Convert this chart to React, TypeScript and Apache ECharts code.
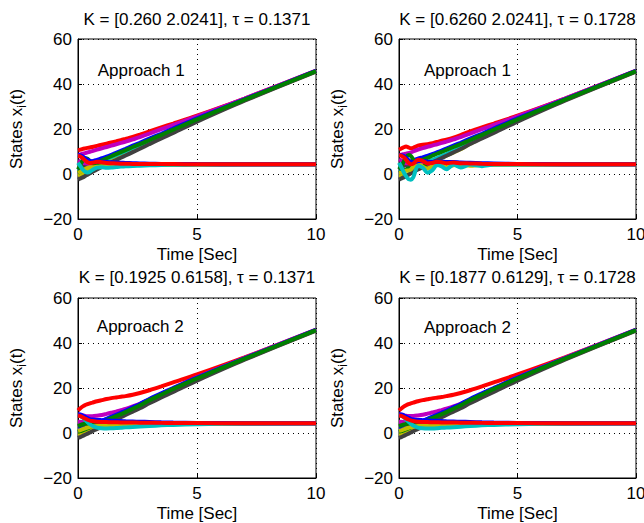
import React, { useEffect, useRef } from 'react';
import * as echarts from 'echarts';

// Shared time samples (s)
const T = [0, 0.1, 0.2, 0.3, 0.4, 0.5, 0.6, 0.8, 1.0, 1.2, 1.4, 1.6, 1.8, 2.0, 2.3, 2.6, 3.0, 3.5, 4, 5, 7, 10];

// ---- Top-left: Approach 1, tau = 0.1371 ----
const A1L_POS_RED = [10.5, 10.8, 11.2, 11.4, 11.6, 11.8, 12.0, 12.5, 13.0, 13.5, 14.0, 14.5, 15.0, 15.6, 16.5, 17.5, 18.9, 20.7, 22.4, 25.9, 33.5, 45.8];
const A1L_POS_MAG = [8.5, 8.7, 9.0, 9.3, 9.6, 9.9, 10.2, 10.8, 11.4, 12.0, 12.6, 13.2, 13.8, 14.4, 15.4, 16.4, 17.9, 19.9, 21.8, 25.6, 33.5, 46.0];
const A1L_POS_BLUE = [2.0, 2.9, 3.7, 4.3, 4.8, 5.2, 5.6, 6.3, 7.0, 7.7, 8.5, 9.4, 10.3, 11.2, 12.6, 13.9, 15.7, 17.9, 20.2, 24.7, 33.2, 45.8];
const A1L_POS_GREEN = [0.5, 1.1, 1.8, 2.5, 3.2, 3.8, 4.3, 5.2, 6.1, 7.0, 7.9, 8.8, 9.7, 10.6, 12.0, 13.3, 15.1, 17.4, 19.7, 24.3, 33.05, 45.7];
const A1L_POS_GRAY = [-2.5, -2.0, -1.5, -0.9, -0.3, 0.3, 0.9, 2.0, 3.1, 4.2, 5.2, 6.2, 7.2, 8.2, 9.7, 11.2, 13.3, 15.8, 18.3, 23.3, 32.6, 45.5];
const A1L_POS_YEL = [-1.0, -0.5, 0.1, 0.7, 1.3, 1.9, 2.5, 3.5, 4.5, 5.5, 6.4, 7.3, 8.2, 9.1, 10.5, 11.9, 13.8, 16.3, 18.8, 23.7, 32.8, 45.6];
const A1L_POS_CYAN = [1.0, 1.4, 1.9, 2.4, 2.9, 3.4, 3.9, 4.8, 5.7, 6.6, 7.5, 8.4, 9.3, 10.2, 11.6, 13.0, 14.9, 17.2, 19.6, 24.2, 33.0, 45.7];
const A1L_VEL_BLUE = [8.5, 8.3, 7.8, 7.0, 6.3, 5.8, 5.6, 5.6, 5.5, 5.3, 5.2, 5.1, 5.0, 4.9, 4.8, 4.7, 4.6, 4.5, 4.45, 4.4, 4.35, 4.35];
const A1L_VEL_RED = [8.0, 7.8, 7.0, 6.0, 5.2, 4.9, 5.0, 5.5, 5.2, 4.9, 4.8, 4.7, 4.6, 4.6, 4.5, 4.5, 4.45, 4.4, 4.4, 4.35, 4.3, 4.3];
const A1L_VEL_GREEN = [2.0, 4.0, 6.0, 7.0, 6.8, 5.8, 4.8, 4.2, 4.3, 4.5, 4.5, 4.4, 4.4, 4.4, 4.35, 4.3, 4.3, 4.3, 4.3, 4.3, 4.3, 4.3];
const A1L_VEL_CYAN = [5.0, 3.5, 2.0, 1.0, 0.7, 1.0, 1.8, 2.8, 3.0, 2.8, 2.9, 3.1, 3.3, 3.4, 3.6, 3.7, 3.85, 4.0, 4.1, 4.2, 4.3, 4.3];
const A1L_VEL_YEL = [0.5, 1.0, 1.6, 2.2, 2.7, 3.0, 3.0, 3.2, 3.4, 3.5, 3.5, 3.6, 3.7, 3.8, 3.9, 4.0, 4.05, 4.1, 4.15, 4.2, 4.3, 4.3];
const A1L_VEL_MAG = [6.0, 5.5, 5.0, 4.8, 4.6, 4.5, 4.5, 4.5, 4.5, 4.5, 4.5, 4.5, 4.4, 4.4, 4.4, 4.4, 4.4, 4.35, 4.35, 4.3, 4.3, 4.3];
const A1L_VEL_GRAY = [3.0, 3.2, 3.5, 3.8, 4.0, 4.0, 4.1, 4.1, 4.1, 4.1, 4.15, 4.2, 4.2, 4.2, 4.2, 4.25, 4.25, 4.25, 4.3, 4.3, 4.3, 4.3];

// ---- Top-right: Approach 1, tau = 0.1728 ----
const A1R_POS_RED = [10.8, 11.3, 11.9, 12.2, 11.8, 11.4, 11.6, 12.6, 13.0, 13.2, 13.7, 14.2, 14.8, 15.3, 16.2, 17.3, 18.9, 20.7, 22.4, 25.9, 33.5, 45.8];
const A1R_POS_MAG = [8.5, 8.6, 8.8, 9.0, 9.3, 9.6, 10.0, 10.8, 11.5, 12.1, 12.6, 13.2, 13.8, 14.4, 15.4, 16.4, 17.9, 19.9, 21.8, 25.6, 33.5, 46.0];
const A1R_POS_BLUE = [2.0, 2.9, 3.7, 4.4, 5.0, 5.5, 6.0, 6.8, 7.4, 8.0, 8.8, 9.6, 10.4, 11.3, 12.6, 13.9, 15.7, 17.9, 20.2, 24.7, 33.2, 45.8];
const A1R_POS_GREEN = [0.5, 0.8, 1.3, 2.0, 2.8, 3.6, 4.4, 5.6, 6.4, 7.2, 8.1, 9.0, 9.8, 10.7, 12.0, 13.3, 15.1, 17.4, 19.7, 24.3, 33.05, 45.7];
const A1R_POS_GRAY = [-2.5, -2.0, -1.5, -0.9, -0.3, 0.3, 0.9, 2.0, 3.0, 4.1, 5.1, 6.1, 7.1, 8.1, 9.6, 11.1, 13.3, 15.8, 18.3, 23.3, 32.6, 45.5];
const A1R_POS_YEL = [-1.0, -0.9, -0.7, -0.4, 0.0, 0.5, 1.1, 2.3, 3.3, 4.3, 5.3, 6.3, 7.2, 8.1, 9.6, 11.0, 13.4, 16.1, 18.7, 23.7, 32.8, 45.6];
const A1R_POS_CYAN = [1.0, 1.3, 1.5, 1.7, 1.9, 2.2, 2.6, 3.5, 4.4, 5.3, 6.2, 7.1, 8.0, 8.9, 10.3, 11.7, 14.2, 16.9, 19.4, 24.2, 33.0, 45.7];
const A1R_VEL_RED = [8.3, 8.1, 7.4, 6.3, 5.0, 4.3, 4.6, 6.3, 5.8, 4.7, 4.9, 5.5, 5.2, 4.8, 5.1, 4.8, 4.7, 4.55, 4.45, 4.4, 4.3, 4.3];
const A1R_VEL_BLUE = [8.5, 8.4, 8.0, 7.2, 6.2, 5.4, 5.2, 5.6, 5.9, 5.5, 5.3, 5.5, 5.5, 5.3, 5.3, 5.1, 5.0, 4.8, 4.7, 4.5, 4.35, 4.35];
const A1R_VEL_GREEN = [2.0, 3.5, 5.5, 7.5, 8.4, 8.0, 6.5, 3.8, 3.5, 4.8, 5.0, 4.3, 4.2, 4.6, 4.5, 4.3, 4.4, 4.3, 4.3, 4.3, 4.3, 4.3];
const A1R_VEL_CYAN = [5.0, 3.0, 0.8, -1.0, -2.3, -2.5, -1.5, 3.6, 2.8, 0.6, 1.6, 4.0, 3.4, 2.1, 4.2, 2.9, 4.2, 3.5, 4.2, 4.2, 4.3, 4.3];
const A1R_VEL_YEL = [0.5, 0.6, 1.0, 1.5, 1.6, 2.0, 3.2, 4.8, 3.2, 2.4, 3.4, 4.4, 3.8, 3.0, 3.9, 4.2, 3.7, 4.1, 4.2, 4.25, 4.3, 4.3];
const A1R_VEL_MAG = [6.5, 6.0, 5.2, 4.8, 4.8, 5.0, 5.2, 4.8, 4.4, 4.6, 4.8, 4.6, 4.4, 4.5, 4.5, 4.4, 4.4, 4.35, 4.35, 4.3, 4.3, 4.3];
const A1R_VEL_GRAY = [3.0, 3.3, 3.7, 4.0, 4.2, 4.2, 4.1, 3.9, 4.0, 4.2, 4.2, 4.1, 4.1, 4.2, 4.2, 4.2, 4.25, 4.25, 4.3, 4.3, 4.3, 4.3];

// ---- Bottom-left: Approach 2, tau = 0.1371 ----
const A2L_POS_RED = [10.0, 11.0, 11.8, 12.4, 12.8, 13.2, 13.5, 14.1, 14.6, 15.1, 15.5, 15.8, 16.1, 16.4, 17.0, 17.8, 19.0, 20.7, 22.5, 26.0, 33.6, 45.8];
const A2L_POS_MAG = [8.3, 8.0, 7.8, 7.6, 7.5, 7.5, 7.5, 7.7, 8.0, 8.5, 9.0, 9.5, 10.1, 10.7, 11.8, 13.0, 14.9, 17.3, 19.8, 24.8, 33.4, 46.0];
const A2L_POS_BLUE = [2.0, 2.1, 2.3, 2.6, 2.9, 3.3, 3.7, 4.5, 5.4, 6.3, 7.2, 8.1, 9.0, 9.9, 11.4, 12.9, 15.1, 17.6, 20.0, 24.6, 33.2, 45.8];
const A2L_POS_GREEN = [0.5, 0.8, 1.2, 1.6, 2.0, 2.5, 3.0, 3.9, 4.8, 5.7, 6.6, 7.5, 8.4, 9.3, 10.8, 12.3, 14.6, 17.1, 19.6, 24.3, 33.05, 45.7];
const A2L_POS_GRAY = [-2.2, -1.8, -1.3, -0.8, -0.3, 0.2, 0.8, 1.8, 2.9, 4.0, 5.0, 6.0, 7.0, 8.0, 9.5, 11.0, 13.2, 15.8, 18.3, 23.3, 32.6, 45.5];
const A2L_POS_YEL = [-1.0, -0.8, -0.4, 0.0, 0.5, 1.0, 1.5, 2.5, 3.5, 4.6, 5.6, 6.6, 7.6, 8.6, 10.1, 11.6, 13.8, 16.3, 18.8, 23.7, 32.8, 45.6];
const A2L_POS_CYAN = [1.0, 1.2, 1.5, 1.9, 2.3, 2.8, 3.3, 4.3, 5.3, 6.3, 7.3, 8.2, 9.1, 10.0, 11.4, 12.8, 14.9, 17.2, 19.6, 24.2, 33.0, 45.7];
const A2L_VEL_BLUE = [8.3, 8.2, 7.8, 7.2, 6.6, 6.2, 6.0, 5.8, 5.7, 5.6, 5.5, 5.4, 5.3, 5.2, 5.1, 5.0, 4.9, 4.75, 4.65, 4.5, 4.35, 4.35];
const A2L_VEL_RED = [7.8, 7.5, 7.0, 6.4, 5.9, 5.5, 5.3, 5.0, 4.9, 4.85, 4.8, 4.75, 4.7, 4.7, 4.65, 4.6, 4.55, 4.5, 4.45, 4.4, 4.3, 4.3];
const A2L_VEL_CYAN = [8.0, 7.6, 6.8, 5.8, 4.8, 3.9, 3.2, 2.4, 2.1, 2.0, 2.1, 2.2, 2.3, 2.5, 2.7, 2.9, 3.1, 3.4, 3.6, 3.9, 4.2, 4.3];
const A2L_VEL_YEL = [1.0, 1.3, 1.7, 2.1, 2.4, 2.7, 2.9, 3.1, 3.2, 3.3, 3.35, 3.4, 3.45, 3.5, 3.6, 3.65, 3.75, 3.85, 3.95, 4.1, 4.25, 4.3];
const A2L_VEL_GREEN = [3.0, 3.5, 3.9, 4.1, 4.2, 4.3, 4.35, 4.4, 4.4, 4.4, 4.4, 4.4, 4.4, 4.4, 4.4, 4.4, 4.4, 4.35, 4.35, 4.3, 4.3, 4.3];
const A2L_VEL_MAG = [5.0, 5.0, 4.9, 4.8, 4.7, 4.65, 4.6, 4.55, 4.5, 4.5, 4.5, 4.45, 4.45, 4.45, 4.4, 4.4, 4.4, 4.35, 4.35, 4.3, 4.3, 4.3];
const A2L_VEL_GRAY = [3.5, 3.6, 3.7, 3.8, 3.9, 3.95, 4.0, 4.05, 4.1, 4.1, 4.1, 4.15, 4.15, 4.2, 4.2, 4.2, 4.25, 4.25, 4.25, 4.3, 4.3, 4.3];

// ---- Bottom-right: Approach 2, tau = 0.1728 ----
const A2R_POS_RED = [10.0, 10.9, 11.7, 12.3, 12.8, 13.2, 13.5, 14.1, 14.6, 15.0, 15.4, 15.7, 16.0, 16.4, 17.0, 17.8, 19.0, 20.7, 22.5, 26.0, 33.6, 45.8];
const A2R_POS_MAG = [8.3, 8.1, 7.9, 7.7, 7.6, 7.6, 7.6, 7.8, 8.1, 8.6, 9.1, 9.6, 10.2, 10.8, 11.8, 13.0, 14.9, 17.3, 19.8, 24.8, 33.4, 46.0];
const A2R_POS_BLUE = [2.0, 2.1, 2.3, 2.6, 2.9, 3.3, 3.7, 4.5, 5.4, 6.3, 7.2, 8.1, 9.0, 9.9, 11.4, 12.9, 15.1, 17.6, 20.0, 24.6, 33.2, 45.8];
const A2R_POS_GREEN = [0.5, 0.8, 1.2, 1.6, 2.0, 2.5, 3.0, 3.9, 4.8, 5.7, 6.6, 7.5, 8.4, 9.3, 10.8, 12.3, 14.6, 17.1, 19.6, 24.3, 33.05, 45.7];
const A2R_POS_GRAY = [-2.2, -1.8, -1.3, -0.8, -0.3, 0.2, 0.8, 1.8, 2.9, 4.0, 5.0, 6.0, 7.0, 8.0, 9.5, 11.0, 13.2, 15.8, 18.3, 23.3, 32.6, 45.5];
const A2R_POS_YEL = [-1.0, -0.8, -0.5, -0.1, 0.4, 0.9, 1.4, 2.4, 3.4, 4.5, 5.5, 6.5, 7.5, 8.5, 10.0, 11.5, 13.8, 16.3, 18.8, 23.7, 32.8, 45.6];
const A2R_POS_CYAN = [1.0, 1.2, 1.5, 1.9, 2.3, 2.7, 3.2, 4.2, 5.2, 6.2, 7.2, 8.1, 9.0, 9.9, 11.3, 12.7, 14.9, 17.2, 19.6, 24.2, 33.0, 45.7];
const A2R_VEL_BLUE = [8.3, 8.2, 7.9, 7.3, 6.7, 6.3, 6.0, 5.8, 5.7, 5.6, 5.5, 5.4, 5.3, 5.2, 5.1, 5.0, 4.9, 4.75, 4.65, 4.5, 4.35, 4.35];
const A2R_VEL_RED = [7.8, 7.6, 7.1, 6.5, 6.0, 5.6, 5.3, 5.0, 4.9, 4.85, 4.8, 4.75, 4.7, 4.7, 4.65, 4.6, 4.55, 4.5, 4.45, 4.4, 4.3, 4.3];
const A2R_VEL_CYAN = [8.0, 7.7, 7.0, 6.0, 5.0, 4.1, 3.3, 2.4, 2.1, 2.0, 2.0, 2.1, 2.3, 2.4, 2.6, 2.8, 3.1, 3.4, 3.6, 3.9, 4.2, 4.3];
const A2R_VEL_YEL = [1.0, 1.2, 1.6, 2.0, 2.3, 2.6, 2.8, 3.1, 3.2, 3.3, 3.35, 3.4, 3.45, 3.5, 3.6, 3.65, 3.75, 3.85, 3.95, 4.1, 4.25, 4.3];
const A2R_VEL_GREEN = [3.0, 3.4, 3.8, 4.0, 4.2, 4.3, 4.35, 4.4, 4.4, 4.4, 4.4, 4.4, 4.4, 4.4, 4.4, 4.4, 4.4, 4.35, 4.35, 4.3, 4.3, 4.3];
const A2R_VEL_MAG = [5.0, 5.0, 4.9, 4.8, 4.7, 4.65, 4.6, 4.55, 4.5, 4.5, 4.5, 4.45, 4.45, 4.45, 4.4, 4.4, 4.4, 4.35, 4.35, 4.3, 4.3, 4.3];
const A2R_VEL_GRAY = [3.5, 3.6, 3.7, 3.8, 3.9, 3.95, 4.0, 4.05, 4.1, 4.1, 4.1, 4.15, 4.15, 4.2, 4.2, 4.2, 4.25, 4.25, 4.25, 4.3, 4.3, 4.3];

const TITLES = [
  'K = [0.260 2.0241], \u03c4 = 0.1371',
  'K = [0.6260 2.0241], \u03c4 = 0.1728',
  'K = [0.1925 0.6158], \u03c4 = 0.1371',
  'K = [0.1877 0.6129], \u03c4 = 0.1728',
];
const NOTES = ['Approach 1', 'Approach 1', 'Approach 2', 'Approach 2'];
const NOTE_AT = [[0.83, 46.2], [1.05, 46.2], [0.79, 47.3], [1.05, 46.7]];
const X_MIN = 0, X_MAX = 10, X_STEP = 5;
const Y_MIN = -20, Y_MAX = 60, Y_STEP = 20;
const X_NAME = 'Time [Sec]';

const C = {
  blue: '#0000FF', green: '#008000', red: '#FF0000', cyan: '#00BFBF',
  magenta: '#BF00BF', yellow: '#BFBF00', gray: '#404040',
};

const PLOTS: [string, number[]][][] = [
  [
    [C.yellow, A1L_POS_YEL], [C.cyan, A1L_POS_CYAN], [C.red, A1L_POS_RED], [C.magenta, A1L_POS_MAG],
    [C.blue, A1L_POS_BLUE], [C.gray, A1L_POS_GRAY], [C.green, A1L_POS_GREEN],
    [C.gray, A1L_VEL_GRAY], [C.magenta, A1L_VEL_MAG], [C.green, A1L_VEL_GREEN], [C.yellow, A1L_VEL_YEL],
    [C.cyan, A1L_VEL_CYAN], [C.blue, A1L_VEL_BLUE], [C.red, A1L_VEL_RED],
  ],
  [
    [C.yellow, A1R_POS_YEL], [C.cyan, A1R_POS_CYAN], [C.red, A1R_POS_RED], [C.magenta, A1R_POS_MAG],
    [C.blue, A1R_POS_BLUE], [C.gray, A1R_POS_GRAY], [C.green, A1R_POS_GREEN],
    [C.gray, A1R_VEL_GRAY], [C.magenta, A1R_VEL_MAG], [C.green, A1R_VEL_GREEN], [C.yellow, A1R_VEL_YEL],
    [C.cyan, A1R_VEL_CYAN], [C.blue, A1R_VEL_BLUE], [C.red, A1R_VEL_RED],
  ],
  [
    [C.yellow, A2L_POS_YEL], [C.cyan, A2L_POS_CYAN], [C.red, A2L_POS_RED], [C.magenta, A2L_POS_MAG],
    [C.blue, A2L_POS_BLUE], [C.gray, A2L_POS_GRAY], [C.green, A2L_POS_GREEN],
    [C.gray, A2L_VEL_GRAY], [C.magenta, A2L_VEL_MAG], [C.green, A2L_VEL_GREEN], [C.yellow, A2L_VEL_YEL],
    [C.cyan, A2L_VEL_CYAN], [C.blue, A2L_VEL_BLUE], [C.red, A2L_VEL_RED],
  ],
  [
    [C.yellow, A2R_POS_YEL], [C.cyan, A2R_POS_CYAN], [C.red, A2R_POS_RED], [C.magenta, A2R_POS_MAG],
    [C.blue, A2R_POS_BLUE], [C.gray, A2R_POS_GRAY], [C.green, A2R_POS_GREEN],
    [C.gray, A2R_VEL_GRAY], [C.magenta, A2R_VEL_MAG], [C.green, A2R_VEL_GREEN], [C.yellow, A2R_VEL_YEL],
    [C.cyan, A2R_VEL_CYAN], [C.blue, A2R_VEL_BLUE], [C.red, A2R_VEL_RED],
  ],
];

const FONT = '"Liberation Sans", Arial, Helvetica, sans-serif';
const FS = 17;

const GRIDS = [
  { left: 78, top: 39, width: 238, height: 180 },
  { left: 399, top: 39, width: 237, height: 180 },
  { left: 78, top: 298, width: 238, height: 180 },
  { left: 399, top: 298, width: 237, height: 180 },
];
const TITLE_TOP = [11, 11, 269, 269];

export default function App() {
  const ref = useRef<HTMLDivElement>(null);
  useEffect(() => {
    if (!ref.current) return;
    const chart = echarts.init(ref.current, undefined, { renderer: 'svg' });
    const txt = { color: '#000', fontFamily: FONT, fontSize: FS };
    const option: any = {
      animation: false,
      backgroundColor: '#fff',
      title: TITLES.map((t, i) => ({
        text: t,
        left: GRIDS[i].left + GRIDS[i].width / 2,
        top: TITLE_TOP[i],
        textAlign: 'center',
        textStyle: { ...txt, fontWeight: 'normal' },
        padding: 0,
      })),
      grid: GRIDS.map((g) => ({
        ...g,
        show: true,
        borderColor: '#000',
        borderWidth: 1,
        backgroundColor: '#fff',
        containLabel: false,
        outerBoundsMode: 'none',
      })),
      xAxis: GRIDS.map((_, i) => ({
        type: 'value',
        gridIndex: i,
        min: X_MIN,
        max: X_MAX,
        interval: X_STEP,
        name: X_NAME,
        nameLocation: 'middle',
        nameGap: 27,
        nameTextStyle: txt,
        axisLine: { show: true, onZero: false, lineStyle: { color: '#000', width: 1 } },
        axisTick: { show: true, inside: true, length: 4, lineStyle: { color: '#000' } },
        axisLabel: { ...txt, margin: 7, showMinLabel: true, showMaxLabel: true },
        splitLine: { show: true, lineStyle: { color: '#000', width: 1, type: [1, 4] } },
      })),
      yAxis: GRIDS.map((_, i) => ({
        type: 'value',
        gridIndex: i,
        min: Y_MIN,
        max: Y_MAX,
        interval: Y_STEP,
        name: 'States x{sub|i}(t)',
        nameLocation: 'middle',
        nameRotate: 90,
        nameGap: 50,
        nameTextStyle: {
          ...txt,
          lineHeight: 24,
          rich: {
            sub: { fontFamily: FONT, fontSize: 12, color: '#000', verticalAlign: 'bottom', lineHeight: 24 },
          },
        },
        axisLine: { show: true, onZero: false, lineStyle: { color: '#000', width: 1 } },
        axisTick: { show: true, inside: true, length: 4, lineStyle: { color: '#000' } },
        axisLabel: {
          ...txt,
          margin: 6,
          formatter: (v: number) => (v < 0 ? '\u2212' + Math.abs(v) : String(v)),
        },
        splitLine: { show: true, lineStyle: { color: '#000', width: 1, type: [1, 4] } },
      })),
      series: PLOTS.flatMap((curves, i) =>
        curves.map(([color, vals], k) => ({
          type: 'line',
          xAxisIndex: i,
          yAxisIndex: i,
          data: T.map((t, j) => [t, vals[j]]),
          showSymbol: false,
          symbol: 'none',
          smooth: 0.25,
          silent: true,
          z: 2 + k * 0.01,
          lineStyle: { color, width: 4 },
          itemStyle: { color },
        }))
      ),
    };
    chart.setOption(option);
    const graphics = NOTES.map((n, i) => {
      const p = chart.convertToPixel({ gridIndex: i }, NOTE_AT[i]) as number[];
      return {
        type: 'text',
        x: p[0],
        y: p[1],
        z: 100,
        style: { text: n, fill: '#000', fontFamily: FONT, fontSize: FS, align: 'left', verticalAlign: 'middle' },
      };
    });
    chart.setOption({ graphic: graphics });
    return () => chart.dispose();
  }, []);
  return (
    <div
      ref={ref}
      style={{ position: 'absolute', left: 0, top: 0, width: 644, height: 523, background: '#fff' }}
    />
  );
}
